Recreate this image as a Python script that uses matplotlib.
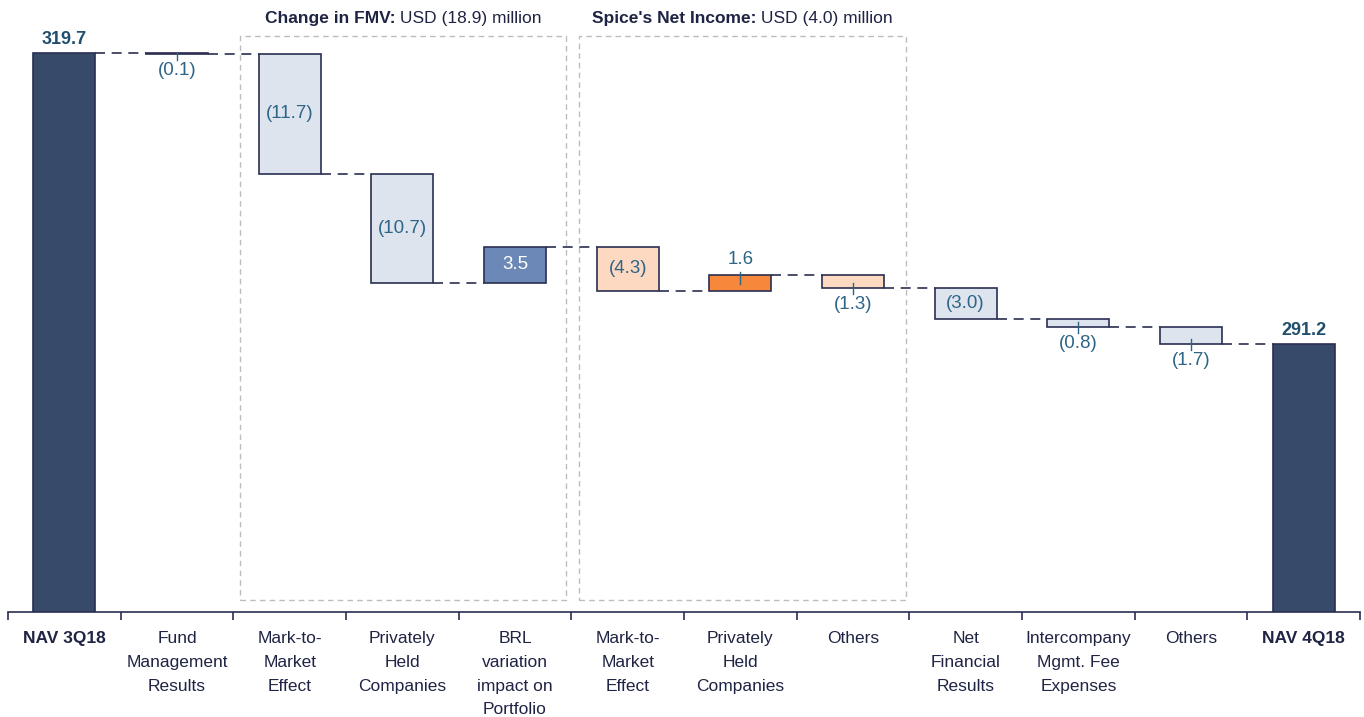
import matplotlib.pyplot as plt
import numpy as np

plt.rcParams['font.family'] = ['Liberation Sans', 'DejaVu Sans']

# data
categories = ['NAV 3Q18', 'Fund\nManagement\nResults', 'Mark-to-\nMarket\nEffect',
              'Privately\nHeld\nCompanies', 'BRL\nvariation\nimpact on\nPortfolio',
              'Mark-to-\nMarket\nEffect', 'Privately\nHeld\nCompanies', 'Others',
              'Net\nFinancial\nResults', 'Intercompany\nMgmt. Fee\nExpenses', 'Others', 'NAV 4Q18']
start_value = 319.7
changes = [-0.1, -11.7, -10.7, 3.5, -4.3, 1.6, -1.3, -3.0, -0.8, -1.7]
end_value = 291.2

# styles per step
face_colors = ['#2b3a63', '#dde4ee', '#dde4ee', '#6b88b6', '#fdd9c1', '#f7873a',
               '#fdd9c1', '#dde4ee', '#dde4ee', '#dde4ee']
label_pos = ['below', 'inside', 'inside', 'inside', 'inside', 'above',
             'below', 'inside', 'below', 'below']

total_color = '#374a69'
edge = '#2a2f52'
lbl_color = '#2e6587'
bar_w = 0.55
ymin = 264.95

fig = plt.figure(figsize=(13.64, 7.17), dpi=100)
ax = fig.add_axes([8 / 1364, 105 / 717, 1352 / 1364, 612 / 717])
ax.set_xlim(-0.5, 11.5)
ax.set_ylim(ymin, 324.9)

# totals
for i, v in [(0, start_value), (11, end_value)]:
    ax.bar(i, v - ymin, bottom=ymin, width=bar_w, color=total_color,
           edgecolor=edge, linewidth=1.2, zorder=3)
    ax.text(i, v + 0.5, f'{v:.1f}', ha='center', va='bottom', fontsize=13,
            fontweight='bold', color='#1f4e6e')

level = start_value
levels = [level]
for k, d in enumerate(changes):
    i = k + 1
    lo, hi = min(level, level + d), max(level, level + d)
    ax.bar(i, hi - lo, bottom=lo, width=bar_w, color=face_colors[k],
           edgecolor=edge, linewidth=1.2, zorder=3)
    txt = f'({abs(d):.1f})' if d < 0 else f'{d:.1f}'
    pos = label_pos[k]
    if pos == 'inside':
        ax.text(i, (lo + hi) / 2, txt, ha='center', va='center', fontsize=13.5,
                color='white' if d > 0 else lbl_color, zorder=4)
    elif pos == 'below':
        ax.plot([i, i], [lo - 0.6, min(lo + 0.5, hi)], color=lbl_color, lw=1, zorder=4)
        ax.text(i, lo - 0.8, txt, ha='center', va='top', fontsize=13.5, color=lbl_color)
    else:
        ax.plot([i, i], [max(hi - 0.9, lo), hi + 0.3], color=lbl_color, lw=1, zorder=4)
        ax.text(i, hi + 0.6, txt, ha='center', va='bottom', fontsize=13.5, color=lbl_color)
    level = level + d
    levels.append(level)

# connectors
for i, lv in enumerate(levels):
    ax.plot([i + bar_w / 2, i + 1 - bar_w / 2], [lv, lv], color=edge, lw=1.2,
            ls=(0, (6, 4)), zorder=2)

# dashed group boxes with two-part titles
renderer = fig.canvas.get_renderer()
for x0, x1, title, rest in [(1.56, 4.456, 'Change in FMV:', ' USD (18.9) million'),
                            (4.57, 7.466, "Spice's Net Income:", ' USD (4.0) million')]:
    ax.plot([x0, x1, x1, x0, x0], [266.13, 266.13, 321.37, 321.37, 266.13],
            color='#bdbdbd', lw=1, ls=(0, (4, 3)), zorder=1)
    t1 = ax.text(x0, 323.1, title, ha='left', va='center', fontsize=12.5,
                 fontweight='bold', color='#1f2444')
    t2 = ax.annotate(rest, xy=(1, 0), xycoords=t1, va='bottom', ha='left', fontsize=12.5,
                     color='#1f2444')
    w1 = t1.get_window_extent(renderer).width
    w2 = t2.get_window_extent(renderer).width
    xc_pix = ax.transData.transform(((x0 + x1) / 2, 0))[0]
    start = ax.transData.inverted().transform((xc_pix - (w1 + w2) / 2, 0))[0]
    t1.set_x(start)

# axes
for s in ['left', 'right', 'top']:
    ax.spines[s].set_visible(False)
ax.spines['bottom'].set_color('#2a2f52')
ax.spines['bottom'].set_linewidth(1.2)
ax.set_yticks([])
ax.set_xticks(np.arange(len(categories)))
ax.set_xticklabels(categories, fontsize=12.5, color='#1f2444', linespacing=1.72, va='top')
for j, lab in enumerate(ax.get_xticklabels()):
    if j in (0, len(categories) - 1):
        lab.set_fontweight('bold')
ax.tick_params(axis='x', which='major', length=0, pad=14)
ax.set_xticks(np.arange(len(categories) + 1) - 0.5, minor=True)
ax.tick_params(axis='x', which='minor', length=6, direction='out', color='#2a2f52', width=1.2)

fig.savefig('out.png', dpi=100, facecolor='white')
